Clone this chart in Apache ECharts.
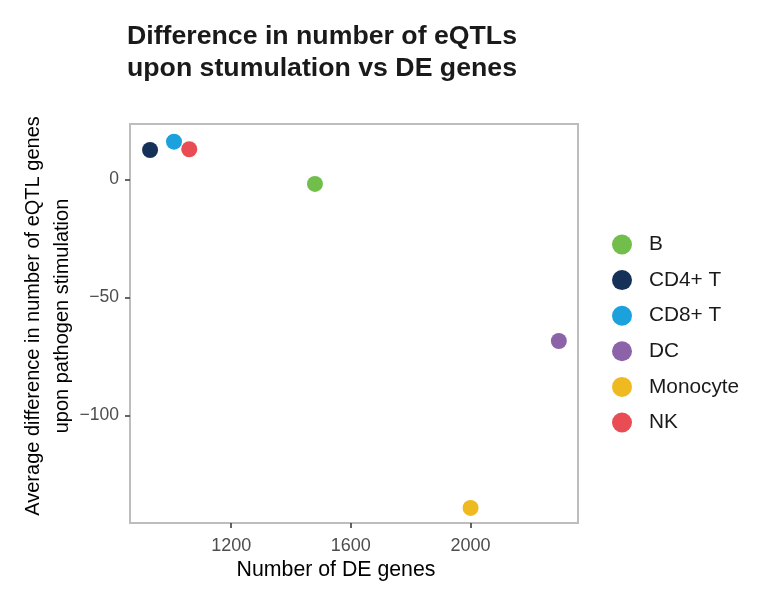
<!DOCTYPE html>
<html>
<head>
<meta charset="utf-8">
<script src="https://cdn.jsdelivr.net/npm/echarts@6/dist/echarts.min.js"></script>
<style>html,body{margin:0;padding:0;background:#fff}#c{width:766px;height:590px}</style>
</head>
<body>
<div id="c"></div>
<script>
var cellTypes = ['B', 'CD4+ T', 'CD8+ T', 'DC', 'Monocyte', 'NK'];
var deGenes = [1480, 929, 1009, 2295, 2000, 1060];
var eqtlDiff = [-1.9, 12.5, 16.0, -68.4, -139.1, 12.8];
var colors = ['#72be4b', '#153158', '#1ba1dc', '#8c62a8', '#efb920', '#e94c52'];
var xTicks = [1200, 1600, 2000];
var yTicks = [-100, -50, 0];

var FONT = '"Liberation Sans", Arial, Helvetica, sans-serif';
var chart = echarts.init(document.getElementById('c'), null, {renderer: 'canvas'});

var series = cellTypes.map(function (name, i) {
  return {
    name: name,
    type: 'scatter',
    symbol: 'circle',
    symbolSize: 16,
    itemStyle: {color: colors[i], opacity: 1},
    emphasis: {disabled: true},
    data: [[deGenes[i], eqtlDiff[i]]]
  };
});

chart.setOption({
  animation: false,
  backgroundColor: '#ffffff',
  title: {
    text: 'Difference in number of eQTLs\nupon stumulation vs DE genes',
    left: 127, top: 20, padding: 0,
    textStyle: {fontFamily: FONT, fontSize: 26.7, fontWeight: 'bold', lineHeight: 32.5, color: '#1a1a1a'}
  },
  grid: {
    left: 130, top: 124, right: 188, bottom: 67,
    show: true, borderColor: '#bdbdbd', borderWidth: 2, backgroundColor: '#ffffff'
  },
  legend: {
    orient: 'vertical',
    left: 607, top: 229,
    itemWidth: 20, itemHeight: 20, itemGap: 14.6,
    icon: 'circle',
    data: cellTypes,
    textStyle: {fontFamily: FONT, fontSize: 20.8, color: '#1a1a1a', padding: [0, 0, 0, 12], lineHeight: 20}
  },
  xAxis: {
    type: 'value',
    min: 862, max: 2359,
    splitLine: {show: false},
    axisLine: {show: false, onZero: false},
    axisTick: {show: true, customValues: xTicks, length: 5, lineStyle: {color: '#333333', width: 1.5}},
    axisLabel: {customValues: xTicks, margin: 14, fontFamily: FONT, fontSize: 18, color: '#4d4d4d',
      formatter: function (v) { return String(v); }}
  },
  yAxis: {
    type: 'value',
    min: -145.5, max: 23.5,
    splitLine: {show: false},
    axisLine: {show: false, onZero: false},
    axisTick: {show: true, customValues: yTicks, length: 5, lineStyle: {color: '#333333', width: 1.5}},
    axisLabel: {customValues: yTicks, margin: 11, fontFamily: FONT, fontSize: 17.5, color: '#4d4d4d',
      formatter: function (v) { return v < 0 ? '\u2212' + Math.abs(v) : String(v); }}
  },
  graphic: [
    {
      type: 'text', x: 336, y: 570,
      style: {text: 'Number of DE genes', font: '21.3px ' + FONT, fill: '#000000', align: 'center', verticalAlign: 'middle'}
    },
    {
      type: 'text', x: 47.5, y: 316, rotation: Math.PI / 2,
      style: {text: 'Average difference in number of eQTL genes\nupon pathogen stimulation', font: '20px ' + FONT,
        lineHeight: 29, fill: '#000000', align: 'center', verticalAlign: 'middle'}
    }
  ],
  series: series
});
</script>
</body>
</html>
